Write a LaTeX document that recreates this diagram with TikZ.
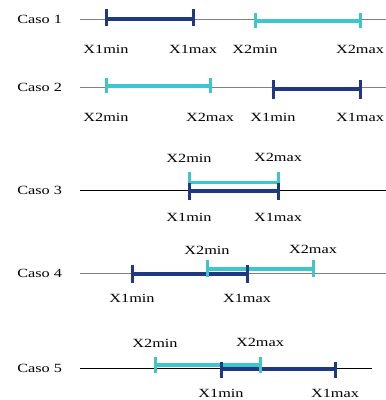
\documentclass[tikz,border=0pt]{standalone}
\usepackage{fontspec}
\setmainfont{Liberation Serif}[FakeStretch=1.3]
\usetikzlibrary{positioning}
\definecolor{xonecol}{RGB}{30,56,132}
\definecolor{xtwocol}{RGB}{62,198,204}

\begin{document}
\begin{tikzpicture}
[x=1pt,y=-1pt,
 every node/.style={inner sep=0pt,outer sep=0pt,font=\fontsize{12.5}{13}\selectfont},
 caso/.style={anchor=east},
 axis/.style={draw=gray,line width=1pt},
 axisk/.style={draw=black,line width=1pt},
 xone/.style={draw=xonecol,line width=4pt},
 xtwo/.style={draw=xtwocol,line width=4pt},
 xonetk/.style={draw=xonecol,line width=3pt},
 xtwotk/.style={draw=xtwocol,line width=3pt}]
\useasboundingbox (0,0) rectangle (386,400);
% caso 1
\coordinate (s1) at (80,19);
\coordinate (e1) at (386,19);
\coordinate (a1) at (106,19);
\coordinate (b1) at (193,19);
\coordinate (c1) at (255,21);
\coordinate (d1) at (360,21);
\node[caso] (k1) [left=18pt of s1] {Caso 1};
\path[axis] (s1) -- (e1);
\path[xone] (a1) -- (b1);
\path[xtwo] (c1) -- (d1);
\path[xonetk] ([yshift=10pt]a1) -- ([yshift=-7pt]a1);
\path[xonetk] ([yshift=10pt]b1) -- ([yshift=-7pt]b1);
\path[xtwotk] ([yshift=8pt]c1) -- ([yshift=-7pt]c1);
\path[xtwotk] ([yshift=8pt]d1) -- ([yshift=-7pt]d1);
\node (a1t) [on grid,below=26pt of a1] {X1min};
\node (b1t) [on grid,below=26pt of b1] {X1max};
\node (c1t) [on grid,below=24pt of c1] {X2min};
\node (d1t) [on grid,below=24pt of d1] {X2max};
% caso 2
\coordinate (s2) at (80,87);
\coordinate (e2) at (386,87);
\coordinate (c2) at (106,86);
\coordinate (d2) at (210,86);
\coordinate (a2) at (273,89);
\coordinate (b2) at (360,89);
\node[caso] (k2) [left=18pt of s2] {Caso 2};
\path[axis] (s2) -- (e2);
\path[xtwo] (c2) -- (d2);
\path[xone] (a2) -- (b2);
\path[xtwotk] ([yshift=8pt]c2) -- ([yshift=-7pt]c2);
\path[xtwotk] ([yshift=8pt]d2) -- ([yshift=-7pt]d2);
\path[xonetk] ([yshift=9pt]a2) -- ([yshift=-10pt]a2);
\path[xonetk] ([yshift=9pt]b2) -- ([yshift=-10pt]b2);
\node (c2t) [on grid,below=27pt of c2] {X2min};
\node (d2t) [on grid,below=27pt of d2] {X2max};
\node (a2t) [on grid,below=24pt of a2] {X1min};
\node (b2t) [on grid,below=24pt of b2] {X1max};
% caso 3
\coordinate (s3) at (80,190);
\coordinate (e3) at (386,190);
\coordinate (c3) at (189,182);
\coordinate (d3) at (278,182);
\coordinate (a3) at (189,191);
\coordinate (b3) at (278,191);
\node[caso] (k3) [left=18pt of s3] {Caso 3};
\path[axisk] (s3) -- (e3);
\path[xtwo,line width=3pt] (c3) -- (d3);
\path[xone] (a3) -- (b3);
\path[xtwotk] ([yshift=10pt]c3) -- ([yshift=-6pt]c3);
\path[xtwotk] ([yshift=10pt]d3) -- ([yshift=-6pt]d3);
\path[xonetk] ([yshift=8pt]a3) -- ([yshift=-9pt]a3);
\path[xonetk] ([yshift=8pt]b3) -- ([yshift=-9pt]b3);
\node (c3t) [on grid,above=20pt of c3] {X2min};
\node (d3t) [on grid,above=20pt of d3] {X2max};
\node (a3t) [on grid,below=22pt of a3] {X1min};
\node (b3t) [on grid,below=22pt of b3] {X1max};
% caso 4
\coordinate (s4) at (80,273);
\coordinate (e4) at (386,273);
\coordinate (a4) at (132,274);
\coordinate (b4) at (247,274);
\coordinate (c4) at (207,269);
\coordinate (d4) at (313,269);
\node[caso] (k4) [left=18pt of s4] {Caso 4};
\path[axis] (s4) -- (e4);
\path[xone] (a4) -- (b4);
\path[xtwo] (c4) -- (d4);
\path[xonetk] ([yshift=9pt]a4) -- ([yshift=-9pt]a4);
\path[xonetk] ([yshift=9pt]b4) -- ([yshift=-9pt]b4);
\path[xtwotk] ([yshift=9pt]c4) -- ([yshift=-8pt]c4);
\path[xtwotk] ([yshift=9pt]d4) -- ([yshift=-8pt]d4);
\node (c4t) [on grid,above=15pt of c4] {X2min};
\node (d4t) [on grid,above=15pt of d4] {X2max};
\node (a4t) [on grid,below=20pt of a4] {X1min};
\node (b4t) [on grid,below=20pt of b4] {X1max};
% caso 5
\coordinate (s5) at (80,368);
\coordinate (e5) at (372,368);
\coordinate (c5) at (155,365);
\coordinate (d5) at (260,365);
\coordinate (a5) at (221,369);
\coordinate (b5) at (335,369);
\node[caso] (k5) [left=18pt of s5] {Caso 5};
\path[axisk] (s5) -- (e5);
\path[xtwo] (c5) -- (d5);
\path[xone] (a5) -- (b5);
\path[xtwotk] ([yshift=8pt]c5) -- ([yshift=-8pt]c5);
\path[xtwotk] ([yshift=8pt]d5) -- ([yshift=-8pt]d5);
\path[xonetk] ([yshift=7pt]a5) -- ([yshift=-9pt]a5);
\path[xonetk] ([yshift=7pt]b5) -- ([yshift=-9pt]b5);
\node (c5t) [on grid,above=18pt of c5] {X2min};
\node (d5t) [on grid,above=18pt of d5] {X2max};
\node (a5t) [on grid,below=20pt of a5] {X1min};
\node (b5t) [on grid,below=20pt of b5] {X1max};
\end{tikzpicture}
\end{document}
